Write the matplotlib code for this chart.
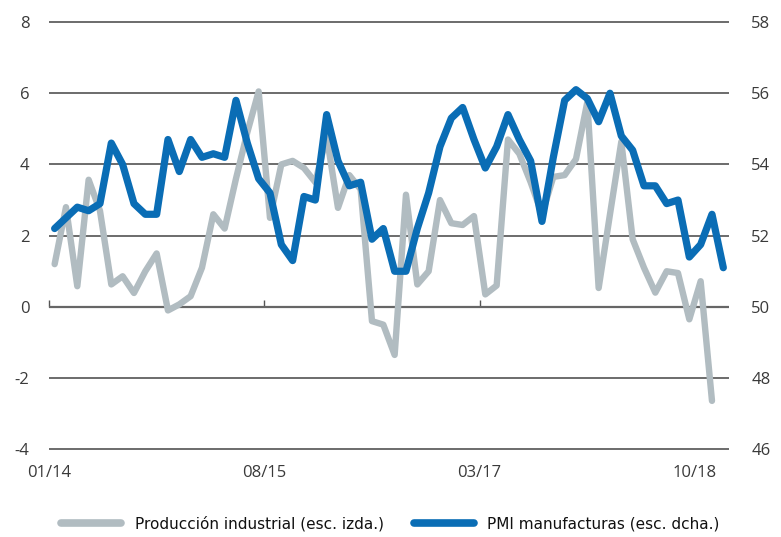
import matplotlib.pyplot as plt
import numpy as np

# monthly series, 01/14 .. 12/18
prod_ind = [1.2, 2.8, 0.58, 3.57, 2.7, 0.63, 0.86, 0.39, 1.0, 1.5, -0.1, 0.07,
            0.3, 1.1, 2.6, 2.2, 3.6, 4.9, 6.05, 2.5, 4.0, 4.1, 3.9, 3.5,
            4.8, 2.78, 3.7, 3.3, -0.4, -0.5, -1.35, 3.15, 0.63, 1.0, 3.0, 2.35,
            2.3, 2.55, 0.35, 0.6, 4.7, 4.3, 3.5, 2.6, 3.65, 3.7, 4.15, 5.75,
            0.53, 2.6, 4.64, 1.9, 1.1, 0.4, 1.0, 0.95, -0.35, 0.72, -2.64]
pmi = [52.2, 52.5, 52.8, 52.7, 52.9, 54.6, 54.0, 52.9, 52.6, 52.6, 54.7, 53.8,
       54.7, 54.2, 54.3, 54.2, 55.8, 54.6, 53.6, 53.2, 51.75, 51.3, 53.1, 53.0,
       55.4, 54.1, 53.4, 53.5, 51.9, 52.2, 51.0, 51.0, 52.2, 53.2, 54.5, 55.3,
       55.6, 54.7, 53.9, 54.5, 55.4, 54.7, 54.1, 52.4, 54.2, 55.8, 56.1, 55.85,
       55.2, 56.0, 54.8, 54.4, 53.4, 53.4, 52.9, 53.0, 51.4, 51.75, 52.6, 51.1]
tick_pos = [0, 19, 38, 57]
tick_labels = ['01/14', '08/15', '03/17', '10/18']

gray = '#b1bcc1'
blue = '#0a6db5'
txt = '#3a3a3a'

plt.rcParams['font.family'] = ['Open Sans', 'DejaVu Sans']
plt.rcParams['axes.unicode_minus'] = False

fig = plt.figure(figsize=(7.81, 5.37), dpi=100)
ax = fig.add_axes([0.0627, 0.160, 0.8707, 0.801])

x_prod = np.arange(len(prod_ind)) + 0.5
x_pmi = np.arange(len(pmi)) + 0.5

ax.set_xlim(0, 60)
ax.set_ylim(-4.05, 8.03)
grid_y = [-4, -2, 2, 4, 6, 8]
ax.hlines(grid_y, 0, 60, colors='#444444', lw=1.1, zorder=1.5, clip_on=False)
ax.axhline(0, color='#666666', lw=1.6, zorder=1.5)

ax.plot(x_prod, prod_ind, color=gray, lw=4.6, zorder=2, solid_capstyle='round',
        label='Producción industrial (esc. izda.)')
ax.set_yticks(range(-4, 9, 2))
ax.set_xticks(tick_pos)
ax.set_xticklabels(tick_labels)
ax.tick_params(axis='both', length=0, labelsize=12, labelcolor=txt)
ax.tick_params(axis='y', pad=14)
ax.tick_params(axis='x', pad=10)
for s in ax.spines.values():
    s.set_visible(False)

# small tick marks on the zero line
sec = ax.secondary_xaxis(4.05 / 12.08)
sec.set_xticks(tick_pos)
sec.set_xticklabels([])
sec.tick_params(direction='in', length=5, width=1, color='#555555')
sec.spines['bottom'].set_visible(False)

ax2 = ax.twinx()
ax2.plot(x_pmi, pmi, color=blue, lw=5.2, zorder=3, solid_capstyle='round',
         label='PMI manufacturas (esc. dcha.)')
ax2.set_ylim(45.95, 58.03)
ax2.set_yticks(range(46, 59, 2))
ax2.tick_params(axis='y', length=0, labelsize=12, labelcolor=txt, pad=16)
for s in ax2.spines.values():
    s.set_visible(False)

h1, l1 = ax.get_legend_handles_labels()
h2, l2 = ax2.get_legend_handles_labels()
leg = fig.legend(h1 + h2, l1 + l2, loc='lower center', bbox_to_anchor=(0.5, -0.015),
                 ncol=2, frameon=False, handlelength=3.9,
                 columnspacing=2.0, handletextpad=0.9,
                 prop={'family': ['DejaVu Sans'], 'size': 11})
for t in leg.get_texts():
    t.set_color('#111111')
for h in leg.legend_handles:
    h.set_linewidth(5.5)

fig.savefig('out.png', dpi=100)
